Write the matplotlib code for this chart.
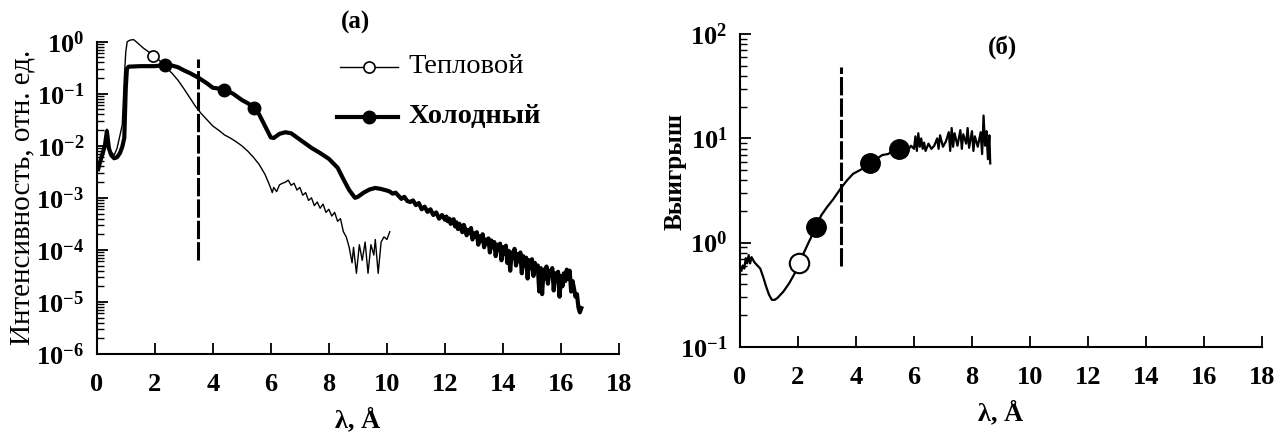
import numpy as np
import matplotlib
matplotlib.use("Agg")
import matplotlib.pyplot as plt
from matplotlib.ticker import LogLocator, FixedLocator, NullFormatter

plt.rcParams['font.family'] = ['Liberation Serif', 'DejaVu Serif']
plt.rcParams['mathtext.fontset'] = 'custom'
plt.rcParams['mathtext.rm'] = 'Liberation Serif:bold'
plt.rcParams['mathtext.it'] = 'Liberation Serif:bold'
plt.rcParams['mathtext.bf'] = 'Liberation Serif:bold'

# ---------------- data (panel a): log10 of intensity ----------------
cold_lam = [0.05, 0.12, 0.2, 0.28, 0.35, 0.42, 0.5, 0.6, 0.7, 0.8, 0.88, 0.95, 1.0, 1.04, 1.1,
            1.5, 2.0, 2.37, 2.6, 2.8, 3.0, 3.2, 3.5, 3.8, 4.0, 4.2, 4.4, 4.7, 5.0, 5.2, 5.43,
            5.6, 5.8, 6.0, 6.1, 6.3, 6.5, 6.7, 6.9, 7.1, 7.4, 7.7, 8.0, 8.3, 8.5, 8.7, 8.9,
            9.0, 9.2, 9.4, 9.6, 9.8, 10.0, 10.1, 10.2, 10.3, 10.4, 10.5, 10.6, 10.7, 10.8,
            10.9, 11.0, 11.1, 11.2, 11.3, 11.4, 11.5, 11.6, 11.7, 11.8, 11.9, 12.0,
            12.05, 12.1, 12.15, 12.2, 12.25, 12.3, 12.35, 12.4, 12.45, 12.5, 12.55, 12.6,
            12.65, 12.7, 12.75, 12.8, 12.85, 12.9, 12.95, 13.0, 13.05, 13.1, 13.15, 13.2,
            13.25, 13.3, 13.35, 13.4, 13.45, 13.5, 13.55, 13.6, 13.65, 13.7, 13.75, 13.8,
            13.85, 13.9, 13.95, 14.0, 14.05, 14.1, 14.15, 14.2, 14.25, 14.3, 14.35, 14.4,
            14.45, 14.5, 14.55, 14.6, 14.65, 14.7, 14.75, 14.8, 14.85, 14.9, 14.95, 15.0,
            15.05, 15.1, 15.15, 15.2, 15.25, 15.3, 15.35, 15.4, 15.45, 15.5, 15.55, 15.6,
            15.65, 15.7, 15.75, 15.8, 15.85, 15.9, 15.95, 16.0, 16.05, 16.1, 16.15, 16.2,
            16.25, 16.3, 16.35, 16.4, 16.45, 16.5, 16.55, 16.6, 16.65, 16.7]
cold_log = [-2.45, -2.3, -2.15, -2.0, -1.72, -2.05, -2.18, -2.24, -2.22, -2.14, -2.02, -1.85,
            -0.9, -0.52, -0.48, -0.47, -0.47, -0.45, -0.46, -0.49, -0.55, -0.6, -0.69, -0.8,
            -0.885, -0.9, -0.92, -1.0, -1.12, -1.18, -1.27, -1.4, -1.62, -1.84, -1.85, -1.77,
            -1.74, -1.76, -1.84, -1.92, -2.04, -2.14, -2.25, -2.42, -2.64, -2.85, -3.0, -2.98,
            -2.9, -2.84, -2.81, -2.83, -2.86, -2.88, -2.92, -2.9, -2.96, -3.02, -2.98, -3.06,
            -3.08, -3.05, -3.14, -3.1, -3.22, -3.17, -3.27, -3.22, -3.33, -3.28, -3.4, -3.33,
            -3.42,
            -3.36, -3.45, -3.4, -3.5, -3.44, -3.41, -3.55, -3.47, -3.6, -3.5, -3.58, -3.66,
            -3.52, -3.6, -3.72, -3.62, -3.68, -3.58, -3.8, -3.68, -3.75, -3.66, -3.9, -3.74,
            -3.82, -3.7, -3.95, -3.8, -3.88, -3.78, -4.05, -3.82, -3.95, -3.85, -4.12, -3.9,
            -4.0, -3.88, -4.2, -3.95, -4.08, -3.92, -4.25, -4.02, -4.4, -4.05, -4.15, -3.98,
            -4.3, -4.08, -4.22, -4.05, -4.45, -4.12, -4.3, -4.15, -4.55, -4.2, -4.35, -4.18,
            -4.5, -4.25, -4.4, -4.3, -4.8, -4.35, -4.85, -4.38, -4.55, -4.32, -4.65, -4.4,
            -4.5, -4.35, -4.78, -4.45, -4.6, -4.42, -4.9, -4.5, -4.7, -4.45, -4.6, -4.38,
            -4.55, -4.4, -4.8, -4.6, -4.75, -4.9, -4.85, -5.1, -5.2, -5.12]

therm_lam = [0.05, 0.12, 0.2, 0.28, 0.35, 0.42, 0.5, 0.6, 0.7, 0.8, 0.88, 0.95, 1.0, 1.05,
             1.15, 1.27, 1.4, 1.6, 1.8, 2.0, 2.2, 2.4, 2.6, 2.8, 3.0, 3.2, 3.4, 3.6, 3.8, 4.0,
             4.2, 4.4, 4.6, 4.8, 5.0, 5.2, 5.4, 5.6, 5.8, 5.9, 6.0, 6.05, 6.1, 6.2, 6.3, 6.4,
             6.5, 6.6, 6.7, 6.8, 6.9, 7.0, 7.1, 7.2, 7.3, 7.4, 7.5, 7.6, 7.7, 7.8, 7.9, 8.0,
             8.1, 8.2, 8.3, 8.4, 8.5, 8.6, 8.7, 8.8, 8.85, 8.95, 9.05, 9.15, 9.25, 9.35, 9.45,
             9.55, 9.6, 9.7, 9.8, 9.9, 10.0, 10.1]
therm_log = [-2.45, -2.3, -2.1, -1.95, -1.68, -2.0, -2.12, -2.18, -2.05, -1.8, -1.6, -0.7,
             -0.2, 0.0, 0.03, 0.04, -0.02, -0.12, -0.2, -0.28, -0.38, -0.5, -0.61, -0.74,
             -0.9, -1.07, -1.24, -1.38, -1.5, -1.62, -1.7, -1.79, -1.85, -1.92, -2.0, -2.1,
             -2.22, -2.36, -2.55, -2.68, -2.82, -2.9, -2.8, -2.88, -2.75, -2.72, -2.7, -2.66,
             -2.76, -2.72, -2.85, -2.8, -2.95, -2.9, -3.05, -3.0, -3.15, -3.08, -3.2, -3.12,
             -3.28, -3.22, -3.35, -3.28, -3.45, -3.4, -3.65, -3.75, -3.95, -4.25, -3.95,
             -4.45, -3.9, -4.2, -3.85, -4.45, -3.9, -4.1, -3.8, -4.45, -3.85, -3.75, -3.8,
             -3.65]

therm_mark_lam = [1.95]
therm_mark_log = [-0.27]
cold_mark_lam = [2.37, 4.39, 5.43]
cold_mark_log = [-0.45, -0.92, -1.27]

# ---------------- data (panel б): log10 of gain ----------------
gain_lam = [0.05, 0.1, 0.15, 0.2, 0.25, 0.3, 0.35, 0.4, 0.5, 0.6, 0.7, 0.8, 0.9, 1.0, 1.1,
            1.2, 1.3, 1.5, 1.7, 1.9, 2.05, 2.2, 2.4, 2.63, 2.8, 3.0, 3.2, 3.5, 3.7, 3.9, 4.1,
            4.3, 4.5, 4.7, 4.9, 5.1, 5.3, 5.5, 5.7, 5.8, 5.9, 6.0, 6.05, 6.1, 6.15, 6.2, 6.25,
            6.3, 6.35, 6.4, 6.5, 6.6, 6.7, 6.8, 6.85, 6.9, 7.0, 7.1, 7.2, 7.25, 7.3, 7.35,
            7.4, 7.5, 7.6, 7.65, 7.7, 7.8, 7.85, 7.9, 8.0, 8.05, 8.1, 8.2, 8.3, 8.35, 8.4,
            8.45, 8.5, 8.55, 8.6, 8.63]
gain_log = [-0.27, -0.22, -0.25, -0.15, -0.2, -0.12, -0.2, -0.14, -0.19, -0.22, -0.25, -0.33,
            -0.42, -0.5, -0.55, -0.55, -0.53, -0.47, -0.39, -0.29, -0.2, -0.1, 0.02, 0.15,
            0.26, 0.34, 0.41, 0.53, 0.6, 0.66, 0.69, 0.72, 0.76, 0.8, 0.84, 0.85, 0.88, 0.9,
            0.91, 0.89, 0.93, 0.9, 1.02, 0.88, 1.05, 0.92, 1.0, 0.9, 0.96, 0.88, 0.95, 0.9,
            0.93, 1.0, 0.9, 1.03, 0.92, 0.97, 1.06, 0.88, 1.1, 0.92, 1.05, 0.93, 1.08, 0.9,
            1.04, 0.95, 1.1, 0.91, 1.07, 0.88, 1.02, 0.92, 1.06, 0.85, 1.22, 0.93, 1.07, 0.8,
            1.03, 0.76]
gain_open_lam = [2.05]
gain_open_log = [-0.2]
gain_fill_lam = [2.63, 4.5, 5.5]
gain_fill_log = [0.15, 0.76, 0.9]

cutoff = 3.5
cut_a = [10 ** -4.19, 10 ** -0.34]
cut_b = [0.6, 49.0]

xticks = [0, 2, 4, 6, 8, 10, 12, 14, 16, 18]

fig = plt.figure(figsize=(12.88, 4.32), dpi=100)
axa = fig.add_axes([0.0751, 0.1806, 0.4055, 0.7229])
axb = fig.add_axes([0.5745, 0.1975, 0.4053, 0.7231])

tick_fs = 19


def style(ax, ymin, ymax):
    ax.set_yscale('log')
    ax.set_xlim(0, 18)
    ax.set_ylim(ymin, ymax)
    for s in ('top', 'right'):
        ax.spines[s].set_visible(False)
    for s in ('left', 'bottom'):
        ax.spines[s].set_linewidth(1.5)
    ax.xaxis.set_major_locator(FixedLocator(xticks))
    ax.yaxis.set_major_locator(LogLocator(base=10, numticks=20))
    ax.yaxis.set_minor_locator(LogLocator(base=10, subs=np.arange(2, 10), numticks=20))
    ax.yaxis.set_minor_formatter(NullFormatter())
    ax.tick_params(axis='both', which='major', direction='in', length=8, width=1.3,
                   labelsize=tick_fs)
    ax.tick_params(axis='x', which='major', pad=14)
    ax.tick_params(axis='y', which='major', pad=9)
    ax.tick_params(axis='y', which='minor', direction='in', length=5, width=1.0)
    for lab in ax.get_xticklabels() + ax.get_yticklabels():
        lab.set_fontweight('bold')


# ---- panel (a)
style(axa, 1e-6, 1.0)
axa.plot(therm_lam, np.power(10.0, therm_log), color='black', lw=1.0, clip_on=False, zorder=3)
axa.plot(cold_lam, np.power(10.0, cold_log), color='black', lw=3.0, zorder=4)
axa.plot(therm_mark_lam, np.power(10.0, therm_mark_log), 'o', ms=8, mfc='white', mec='black',
         mew=1.2, zorder=5)
axa.plot(cold_mark_lam, np.power(10.0, cold_mark_log), 'o', ms=9, mfc='black', mec='black',
         zorder=5)
axa.plot([cutoff, cutoff], cut_a, color='black', lw=2.2, ls=(0, (6, 1.0)), zorder=2)
axa.set_xlabel('λ, Å', fontsize=19, fontweight='bold', labelpad=8)
axa.set_ylabel('Интенсивность, отн. ед.', fontsize=21)
axa.yaxis.set_label_coords(-0.118, 0.5)
axa.text(0.495, 1.063, '(a)', transform=axa.transAxes, ha='center', va='center',
         fontsize=18, fontweight='bold')

# legend drawn by hand
axa.plot([0.466, 0.577], [0.92, 0.92], transform=axa.transAxes, color='black', lw=1.0)
axa.plot([0.521], [0.92], 'o', transform=axa.transAxes, ms=8, mfc='white', mec='black', mew=1.2)
axa.text(0.596, 0.92, 'Тепловой', transform=axa.transAxes, ha='left', va='center',
         fontsize=20.5)
axa.plot([0.46, 0.577], [0.76, 0.76], transform=axa.transAxes, color='black', lw=3.0)
axa.plot([0.521], [0.76], 'o', transform=axa.transAxes, ms=9, mfc='black', mec='black')
axa.text(0.596, 0.76, 'Холодный', transform=axa.transAxes, ha='left', va='center',
         fontsize=20.5, fontweight='bold')

# ---- panel (б)
style(axb, 0.1, 100.0)
axb.plot(gain_lam, np.power(10.0, gain_log), color='black', lw=1.6, zorder=3)
axb.plot(gain_open_lam, np.power(10.0, gain_open_log), 'o', ms=14, mfc='white', mec='black',
         mew=1.5, zorder=5)
axb.plot(gain_fill_lam, np.power(10.0, gain_fill_log), 'o', ms=14, mfc='black', mec='black',
         zorder=5)
axb.plot([cutoff, cutoff], cut_b, color='black', lw=2.2, ls=(0, (6, 1.0)), zorder=2)
axb.set_xlabel('λ, Å', fontsize=19, fontweight='bold', labelpad=8)
axb.set_ylabel('Выигрыш', fontsize=18, fontweight='bold')
axb.yaxis.set_label_coords(-0.103, 0.562)
axb.text(0.502, 0.959, '(б)', transform=axb.transAxes, ha='center', va='center',
         fontsize=18, fontweight='bold')

fig.savefig('out.png', dpi=100)
